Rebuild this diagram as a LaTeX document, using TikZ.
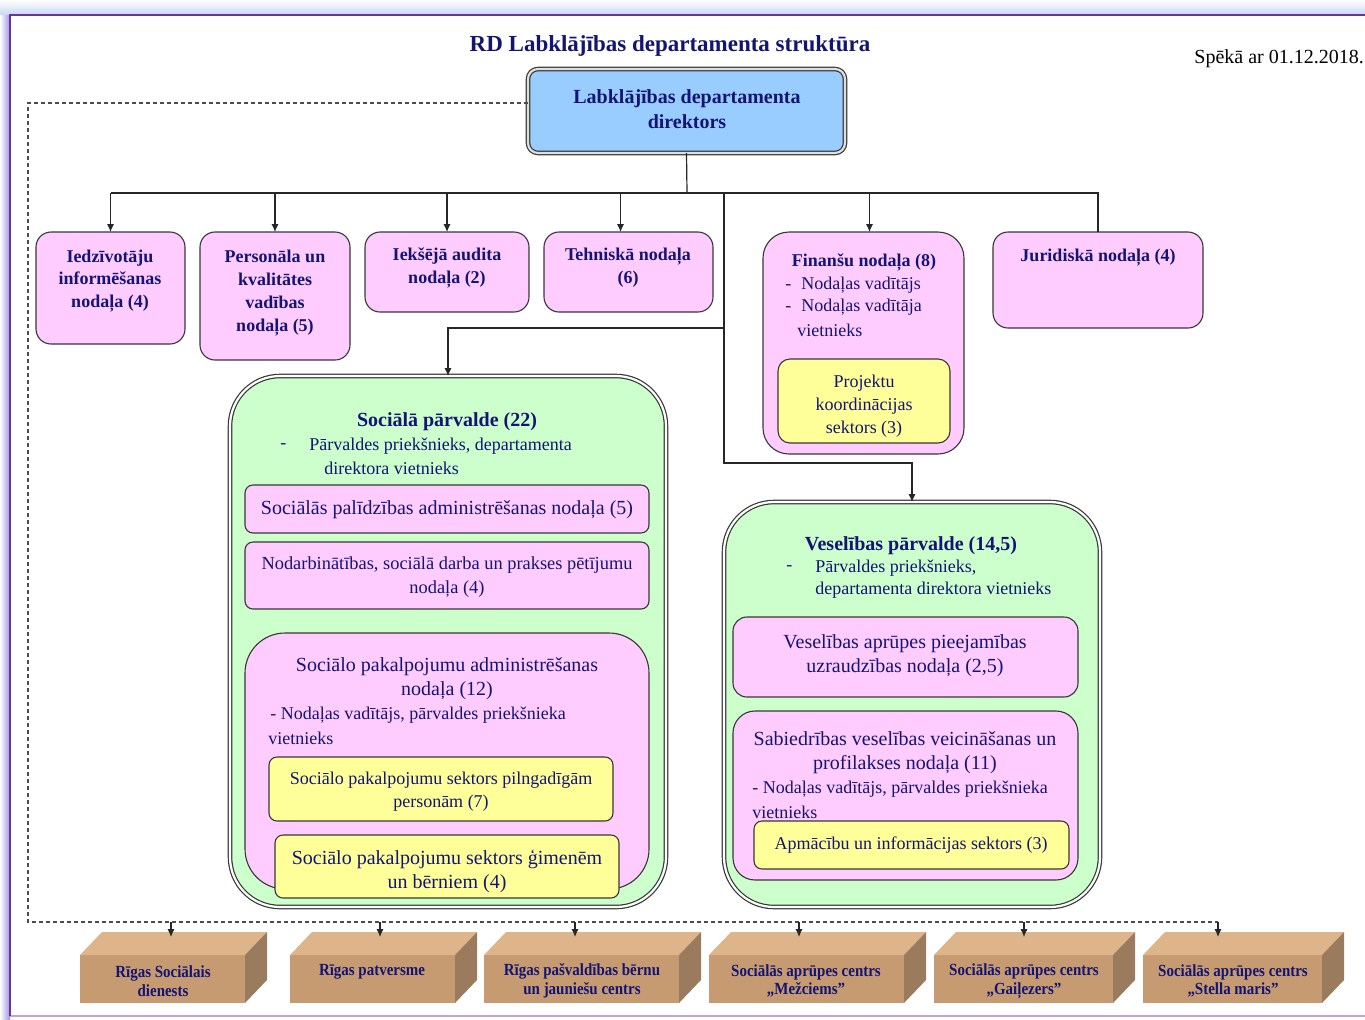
\documentclass[tikz,border=0pt]{standalone}
\usepackage{fontspec}
\setmainfont{Liberation Serif}
\newfontfamily\condfont{Liberation Serif}[FakeStretch=0.88]
\usetikzlibrary{arrows.meta,fit,shadows}
\definecolor{navyt}{RGB}{20,20,115}
\definecolor{pinkf}{RGB}{255,204,255}
\definecolor{greenf}{RGB}{204,255,204}
\definecolor{yellowf}{RGB}{255,255,153}
\definecolor{bluef}{RGB}{153,204,255}
\definecolor{framep}{RGB}{112,48,160}
\definecolor{framel}{RGB}{190,165,225}
\definecolor{glowb}{RGB}{150,150,225}
\definecolor{glowt}{RGB}{200,215,245}
\definecolor{brfront}{RGB}{198,155,114}
\definecolor{brtop}{RGB}{222,180,138}
\definecolor{brside}{RGB}{155,123,93}
\definecolor{edgec}{RGB}{55,55,55}
\begin{document}
\begin{tikzpicture}[x=0.5pt,y=-0.5pt,
  conn/.style={draw=black!85, line width=0.6pt},
  arr/.style={conn, -{Latex[length=4pt,width=3.6pt]}},
  dashline/.style={draw=black!70, line width=0.55pt, dash pattern=on 2pt off 1.5pt},
  shbox/.style={inner sep=0pt, outer sep=0pt, draw=edgec, line width=0.55pt},
  pinkbox/.style={shbox, fill=pinkf, rounded corners=7.5pt},
  pinksm/.style={shbox, fill=pinkf, rounded corners=4pt},
  yelsm/.style={shbox, fill=yellowf, rounded corners=4pt},
  greenbox/.style={shbox, fill=greenf, draw=edgec, line width=0.6pt, double=white, double distance=1.1pt, rounded corners=25pt, drop shadow={opacity=0.3,shadow xshift=0.8pt,shadow yshift=-0.8pt}},
  dirbox/.style={shbox, fill=bluef, line width=0.6pt, double=gray!25, double distance=1.1pt, rounded corners=5pt, drop shadow={opacity=0.3,shadow xshift=0.8pt,shadow yshift=-0.8pt}},
  tbase/.style={text=navyt, inner sep=0pt, yshift=-1pt},
  btxt/.style={tbase, font=\bfseries\fontsize{9}{11.4}\selectfont, align=center},
  bten/.style={tbase, font=\bfseries\fontsize{10}{12.4}\selectfont, align=center},
  ntxt/.style={tbase, font=\fontsize{9}{11.5}\selectfont, align=center},
  nten/.style={tbase, font=\fontsize{10}{12}\selectfont, align=center},
  ltxt/.style={ntxt, anchor=west, align=left},
  ctxt/.style={tbase, font=\condfont\bfseries\fontsize{8.5}{9.3}\selectfont, align=center},
  brf/.style={inner sep=0pt, outer sep=0pt, fill=brfront}
]
\useasboundingbox (0,0) rectangle (1365,1019);
% frame and glow
\shade[top color=white, bottom color=glowt] (0,0) rectangle (1365,15);
\shade[left color=white, right color=glowb] (0,15) rectangle (10,1019);
\draw[framel, line width=1.2pt] (10,1016) -- (1365,1016);
\draw[framep, line width=1.2pt] (10,1016) -- (10,15) -- (1365,15);

% title
\node[tbase, font=\bfseries\fontsize{11.5}{13}\selectfont] (title) at (670,44) {RD Labklājības departamenta struktūra};
\node[anchor=west, font=\fontsize{10}{12}\selectfont, inner sep=0pt, yshift=-1pt] (date) at (1194,57) {Spēkā ar 01.12.2018.};

% director
\node[dirbox, fit={(528,69)(845,153)}] (dir) {};
\node[bten, yshift=1pt] (dirt) at (687,109) {Labklājības departamenta\\direktors};

% top row
\node[pinkbox, fit={(36,232)(185,344)}] (b1) {};
\node[btxt] (b1t) at (110,279) {Iedzīvotāju\\informēšanas\\nodaļa (4)};
\node[pinkbox, fit={(200,232)(350,360)}] (b2) {};
\node[btxt] (b2t) at (275,291) {Personāla un\\kvalitātes\\vadības\\nodaļa (5)};
\node[pinkbox, fit={(365,232)(529,312)}] (b3) {};
\node[btxt] (b3t) at (447,266) {Iekšējā audita\\nodaļa (2)};
\node[pinkbox, fit={(544,232)(713,312)}] (b4) {};
\node[btxt] (b4t) at (628,266) {Tehniskā nodaļa\\(6)};
\node[pinkbox, rounded corners=13pt, fit={(763,232)(964,454)}] (fin) {};
\node[btxt] (fint) at (864,260) {Finanšu nodaļa (8)};
\node[ltxt] (fin1) at (785,283) {-\hspace{0.55em}Nodaļas vadītājs};
\node[ltxt] (fin2) at (785,305) {-\hspace{0.55em}Nodaļas vadītāja};
\node[ltxt] (fin3) at (797,328) {vietnieks};
\node[yelsm, rounded corners=6pt, fit={(778,359)(950,443)}] (proj) {};
\node[ntxt] (projt) at (864,404) {Projektu\\koordinācijas\\sektors (3)};
\node[pinkbox, fit={(993,232)(1203,328)}] (jur) {};
\node[btxt] (jurt) at (1098,256) {Juridiskā nodaļa (4)};

% Sociala parvalde
\node[greenbox, fit={(230,376)(666,907)}] (sp) {};
\node[bten] (spt) at (447,420) {Sociālā pārvalde (22)};
\node[ltxt] (spd) at (280,444) {-};
\node[ltxt] (sp1) at (309,444) {Pārvaldes priekšnieks, departamenta};
\node[ltxt] (sp2) at (324,466) {direktora vietnieks};
\node[pinksm, fit={(245,485)(649,533)}] (s1) {};
\node[nten] (s1t) at (447,508) {Sociālās palīdzības administrēšanas nodaļa (5)};
\node[pinksm, fit={(245,542)(649,609)}] (s2) {};
\node[tbase, font=\fontsize{9.2}{12}\selectfont, align=center] (s2t) at (447,575) {Nodarbinātības, sociālā darba un prakses pētījumu\\nodaļa (4)};
\node[shbox, fill=pinkf, rounded corners=20pt, fit={(245,633)(649,889)}] (s3) {};
\node[nten] (s3t) at (447,677) {Sociālo pakalpojumu administrēšanas\\nodaļa (12)};
\node[ltxt] (s3a) at (270,713) {- Nodaļas vadītājs, pārvaldes priekšnieka};
\node[ltxt] (s3b) at (268,736) {vietnieks};
\node[yelsm, fit={(269,757)(613,821)}] (s31) {};
\node[ntxt] (s31t) at (441,790) {Sociālo pakalpojumu sektors pilngadīgām\\personām (7)};
\node[yelsm, fit={(275,835)(619,898)}] (s32) {};
\node[nten] (s32t) at (447,869) {Sociālo pakalpojumu sektors ģimenēm\\un bērniem (4)};

% Veselibas parvalde
\node[greenbox, fit={(724,502)(1100,907)}] (vp) {};
\node[bten] (vpt) at (911,544) {Veselības pārvalde (14,5)};
\node[ltxt] (vpd) at (786,566) {-};
\node[ltxt] (vp1) at (815,566) {Pārvaldes priekšnieks,};
\node[ltxt] (vp2) at (815,588) {departamenta direktora vietnieks};
\node[pinksm, rounded corners=7pt, fit={(733,617)(1078,697)}] (v1) {};
\node[nten] (v1t) at (905,654) {Veselības aprūpes pieejamības\\uzraudzības nodaļa (2,5)};
\node[pinksm, rounded corners=11pt, fit={(733,711)(1078,880)}] (v2) {};
\node[nten] (v2t) at (905,751) {Sabiedrības veselības veicināšanas un\\profilakses nodaļa (11)};
\node[ltxt] (v2a) at (752,787) {- Nodaļas vadītājs, pārvaldes priekšnieka};
\node[ltxt] (v2b) at (752,810) {vietnieks};
\node[yelsm, fit={(754,821)(1069,869)}] (v21) {};
\node[ntxt] (v21t) at (911,843) {Apmācību un informācijas sektors (3)};

% solid connectors
\coordinate (j0) at (687,193);
\coordinate (v0) at (724,193);
\coordinate (vm) at (724,328);
\coordinate (vb) at (724,463);
\draw[conn] (dir.south) -- (j0);
\draw[conn] (b1.north |- j0) -- (jur.north |- j0) -- (jur.north);
\draw[arr] (b1.north |- j0) -- (b1.north);
\draw[arr] (b2.north |- j0) -- (b2.north);
\draw[arr] (b3.north |- j0) -- (b3.north);
\draw[arr] ([xshift=-4pt]b4.north |- j0) -- ([xshift=-4pt]b4.north);
\draw[arr] ([xshift=3pt]fin.north |- j0) -- ([xshift=3pt]fin.north);
\draw[arr] (v0) -- (vb) -| (vp.north);
\draw[arr] (vm) -| (sp.north);

% bottom 3D boxes
\node[brf, fit={(80,955)(245,1003)}] (c1) {};
\node[brf, fit={(290,955)(455,1003)}] (c2) {};
\node[brf, fit={(484,955)(679,1003)}] (c3) {};
\node[brf, fit={(709,955)(904,1003)}] (c4) {};
\node[brf, fit={(934,955)(1113,1003)}] (c5) {};
\node[brf, fit={(1143,955)(1322,1003)}] (c6) {};
\foreach \c in {c1,c2,c3,c4,c5,c6}{
  \fill[brtop] (\c.north west) -- ++(22,-23) -- ([shift={(22,-23)}]\c.north east) -- (\c.north east) -- cycle;
  \fill[brside] (\c.north east) -- ++(22,-23) -- ++(0,48) -- (\c.south east) -- cycle;
}
\node[ctxt] (c1t) at (163,979) {Rīgas Sociālais\\dienests};
\node[ctxt] (c2t) at (372,970) {Rīgas patversme};
\node[ctxt] (c3t) at (582,979) {Rīgas pašvaldības bērnu\\un jauniešu centrs};
\node[ctxt] (c4t) at (806,979) {Sociālās aprūpes centrs\\„Mežciems”};
\node[ctxt] (c5t) at (1024,979) {Sociālās aprūpes centrs\\„Gaiļezers”};
\node[ctxt] (c6t) at (1233,979) {Sociālās aprūpes centrs\\„Stella maris”};

% dashed connectors
\coordinate (d0) at (28,103);
\coordinate (d1) at (28,922);
\coordinate (d2) at (1218,922);
\draw[dashline] (dir.west |- d0) -- (d0) -- (d1) -- (d2);
\coordinate (a1) at (171,937);
\coordinate (a2) at (380,937);
\coordinate (a3) at (575,937);
\coordinate (a4) at (799,937);
\coordinate (a5) at (1024,937);
\coordinate (a6) at (1218,937);
\foreach \a in {a1,a2,a3,a4,a5,a6}{
  \draw[arr] (\a |- d1) -- (\a);
}
\end{tikzpicture}
\end{document}
